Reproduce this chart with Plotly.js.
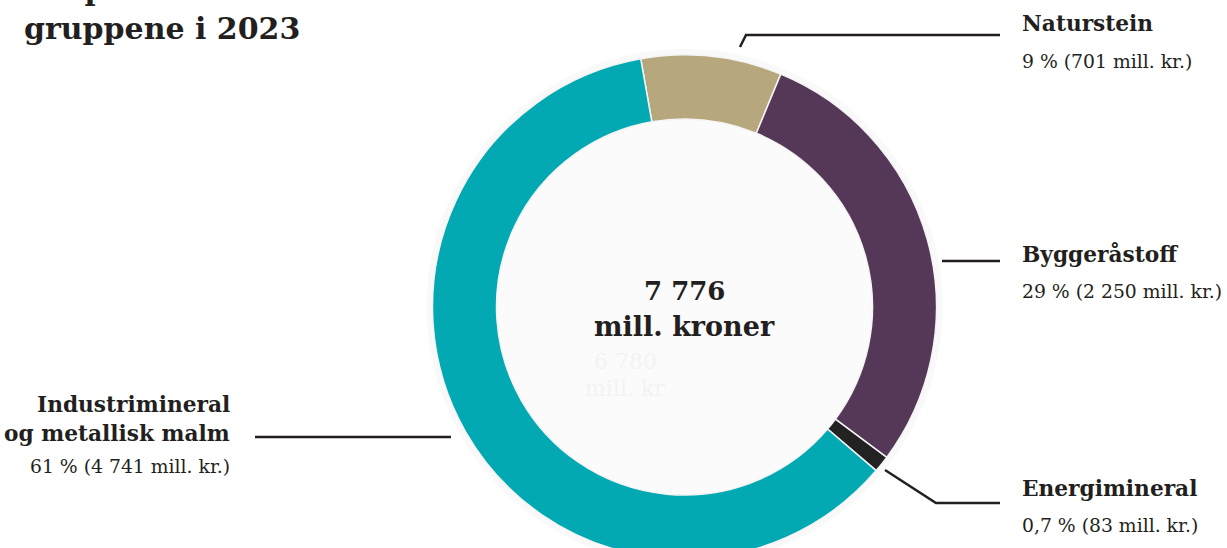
<!DOCTYPE html>
<html>
<head>
<meta charset="utf-8">
<script src="https://cdn.plot.ly/plotly-3.0.1.min.js"></script>
<style>
  html, body { margin: 0; padding: 0; background: #ffffff; overflow: hidden; }
  #wrap { width: 1227px; height: 548px; overflow: hidden; position: relative; }
  #chart { width: 1227px; height: 620px; }
</style>
</head>
<body>
<div id="wrap"><div id="chart"></div></div>
<script>
// ---- data ----
const categories = ["Naturstein", "Byggeråstoff", "Energimineral", "Industrimineral og metallisk malm"];
const labelLines = [["Naturstein"], ["Byggeråstoff"], ["Energimineral"], ["Industrimineral", "og metallisk malm"]];
const valuesMillKr = [701, 2250, 83, 4741];
const percentText = ["9 %", "29 %", "0,7 %", "61 %"];
const valueText = ["701", "2 250", "83", "4 741"];
const totalText = "7 776";
const previousTotalText = "6 780";
const sliceColors = ["#b6a77c", "#553757", "#222222", "#02a9b2"];
const titleLines = ["Eksportverdi for", "gruppene i 2023"];

// ---- layout helpers ----
const W = 1227, H = 620;
const px = x => x / W;
const py = y => 1 - y / H;
const FONT = "DejaVu Serif, Liberation Serif, serif";
const INK = "#231f20";

const cx = 684.5, cy = 307, R = 252, r = 188;

const trace = {
  type: "pie",
  labels: categories,
  values: valuesMillKr,
  sort: false,
  direction: "clockwise",
  rotation: -10,
  hole: r / R,
  textinfo: "none",
  hoverinfo: "label+value+percent",
  marker: { colors: sliceColors, line: { color: "#f4f4f4", width: 1.5 } },
  domain: { x: [px(cx - R), px(cx + R)], y: [py(cy + R), py(cy - R)] },
  showlegend: false
};

// label placement (positions only)
const labelPos = [
  { x: 1020, y: 24, sub: 38, anchor: "left", line: [[740, 47], [746, 35], [1000, 35]] },
  { x: 1020, y: 254, sub: 37, anchor: "left", line: [[942, 261], [1000, 261]] },
  { x: 1020, y: 488, sub: 37, anchor: "left", line: [[885, 470], [936, 503], [1000, 503]] },
  { x: 232, y: 404, sub: 33, anchor: "right", line: [[255, 437], [451, 437]] }
];

const annotations = [];
const shapes = [];

// faint halo and inner disc
shapes.push({ type: "circle", xref: "paper", yref: "paper", layer: "below",
  x0: px(cx - R - 6), x1: px(cx + R + 6), y0: py(cy + R + 6), y1: py(cy - R - 6),
  fillcolor: "#f9f9f9", line: { width: 0 } });
shapes.push({ type: "circle", xref: "paper", yref: "paper", layer: "below",
  x0: px(cx - r), x1: px(cx + r), y0: py(cy + r), y1: py(cy - r),
  fillcolor: "#fbfbfb", line: { width: 0 } });

categories.forEach((c, i) => {
  const p = labelPos[i];
  const lines = labelLines[i];
  lines.forEach((t, k) => {
    annotations.push({ xref: "paper", yref: "paper", x: px(p.x), y: py(p.y + k * 29),
      xanchor: p.anchor, yanchor: "middle", showarrow: false,
      text: "<b>" + t + "</b>", font: { family: FONT, size: 21.7, color: INK } });
  });
  annotations.push({ xref: "paper", yref: "paper", x: px(p.x), y: py(p.y + (lines.length - 1) * 29 + p.sub),
    xanchor: p.anchor, yanchor: "middle", showarrow: false,
    text: percentText[i] + " (" + valueText[i] + " mill. kr.)",
    font: { family: FONT, size: 18.8, color: INK } });
  const pts = p.line;
  let path = "M " + pts.map(q => px(q[0]) + "," + py(q[1])).join(" L ");
  shapes.push({ type: "path", xref: "paper", yref: "paper", path: path,
    line: { color: INK, width: 2.5 } });
});

// faint ghost total (previous value)
annotations.push({ xref: "paper", yref: "paper", x: px(625), y: py(361), xanchor: "center", yanchor: "middle",
  showarrow: false, text: previousTotalText, font: { family: FONT, size: 22, color: "#f3f3f3" } });
annotations.push({ xref: "paper", yref: "paper", x: px(625), y: py(388), xanchor: "center", yanchor: "middle",
  showarrow: false, text: "mill. kr", font: { family: FONT, size: 22, color: "#f3f3f3" } });

// center total
annotations.push({ xref: "paper", yref: "paper", x: px(cx), y: py(291), xanchor: "center", yanchor: "middle",
  showarrow: false, text: "<b>" + totalText + "</b>", font: { family: FONT, size: 26, color: INK } });
annotations.push({ xref: "paper", yref: "paper", x: px(cx), y: py(326), xanchor: "center", yanchor: "middle",
  showarrow: false, text: "<b>mill. kroner</b>", font: { family: FONT, size: 27, color: INK } });

const layout = {
  width: W, height: H,
  margin: { l: 0, r: 0, t: 0, b: 0 },
  paper_bgcolor: "#ffffff",
  plot_bgcolor: "#ffffff",
  title: {
    text: "<b>" + titleLines.join("<br>") + "</b>",
    font: { family: FONT, size: 30, color: INK },
    xref: "container", yref: "container",
    x: px(24), xanchor: "left",
    y: 1, yanchor: "bottom"
  },
  annotations: annotations,
  shapes: shapes,
  showlegend: false
};

Plotly.newPlot("chart", [trace], layout, { displayModeBar: false, staticPlot: true });
</script>
</body>
</html>
